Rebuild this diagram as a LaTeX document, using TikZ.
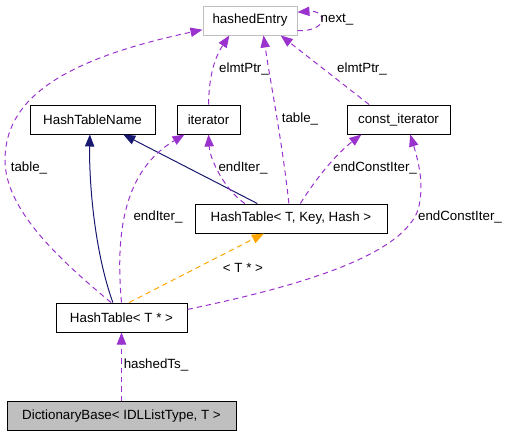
\documentclass[tikz,border=0pt]{standalone}
\usepackage{fontspec}
\setmainfont{Liberation Sans}
\usepackage{xcolor}
\usetikzlibrary{arrows.meta,positioning}
\definecolor{edgepurple}{RGB}{154,50,205}
\definecolor{edgenavy}{RGB}{25,25,112}
\definecolor{edgeorange}{RGB}{255,165,0}
\definecolor{boxgray}{RGB}{191,191,191}
\tikzstyle{usage} = [
    line width=0.75pt,
    dash pattern=on 4pt off 3pt,
    draw=edgepurple,
    -{Triangle[length=9pt,width=7pt,fill=edgepurple]}
]
\tikzstyle{inherit} = [
    line width=0.75pt,
    draw=edgenavy,
    -{Triangle[length=9pt,width=7pt,fill=edgenavy]}
]
\tikzstyle{templ} = [
    line width=0.75pt,
    dash pattern=on 4pt off 3pt,
    draw=edgeorange,
    -{Triangle[length=9pt,width=7pt,fill=edgeorange]}
]
\tikzstyle{cls} = [
    rectangle,
    draw=black,
    line width=0.75pt,
    fill=white,
    minimum height=21.75pt,
    inner sep=0pt,
    font=\fontsize{10}{12}\selectfont
]
\tikzstyle{lbl} = [
    inner sep=0pt,
    font=\fontsize{10}{12}\selectfont
]

\begin{document}
\begin{tikzpicture}[x=0.75pt, y=-0.75pt]
    \useasboundingbox (0,0) rectangle (507,437);
    % classes
    \node[cls, draw=boxgray, minimum width=70.5pt] (he) at (250,20.5) {hashedEntry};
    \node[cls, minimum width=93.75pt] (htn) at (92.5,119.5) {HashTableName};
    \node[cls, minimum width=47.25pt] (it) at (208.5,119.5) {iterator};
    \node[cls, minimum width=77.25pt] (cit) at (398.5,119.5) {const\_iterator};
    \node[cls, minimum width=144pt] (htk) at (291,218.5) {HashTable< T, Key, Hash >};
    \node[cls, minimum width=98.25pt] (htp) at (121.5,317.5) {HashTable< T * >};
    \node[cls, fill=boxgray, minimum width=171.75pt] (db) at (121.5,416) {DictionaryBase< IDLListType, T >};
    % inheritance
    \draw[inherit] (htk.156) -- (htn.334);
    \draw[inherit] (htp.120) .. controls (94,250) and (89,180) .. (htn.260);
    % members
    \draw[usage] (htp.125) .. controls (60,260) and (5,210) .. (5,160)
        .. controls (5,100) and (60,60) .. (he.191);
    \draw[usage] (he.-12) .. controls (328,32) and (328,10) .. (he.10);
    \draw[usage] (it.north) .. controls (209,80) and (213,60) .. (he.216);
    \draw[usage] (htk.98) .. controls (282,140) and (270,80) .. (he.312);
    \draw[usage] (cit.153) -- (he.334);
    \draw[usage] (htk.162) .. controls (225,190) and (210,160) .. (it.south);
    \draw[usage] (htp.north) .. controls (115,230) and (125,170) .. (it.212);
    \draw[usage] (htk.58) .. controls (315,180) and (335,155) .. (cit.202);
    \draw[usage] (htp.7) .. controls (280,290) and (400,260) .. (418,210)
        .. controls (425,185) and (418,160) .. (cit.308);
    \draw[templ] (htp.63) -- (htk.209);
    \draw[usage] (db) -- (htp);
    % labels
    \node[lbl] (l1) at (29,168) {table\_};
    \node[lbl] (l2) at (337,20) {next\_};
    \node[lbl] (l3) at (244,69) {elmtPtr\_};
    \node[lbl] (l4) at (300,119) {table\_};
    \node[lbl] (l5) at (362,69) {elmtPtr\_};
    \node[lbl] (l6) at (243,168) {endIter\_};
    \node[lbl] (l7) at (375,168) {endConstIter\_};
    \node[lbl] (l8) at (158,217) {endIter\_};
    \node[lbl] (l9) at (460,217) {endConstIter\_};
    \node[lbl] (l10) at (243,268) {< T * >};
    \node[lbl] (l11) at (156,365) {hashedTs\_};
\end{tikzpicture}
\end{document}
